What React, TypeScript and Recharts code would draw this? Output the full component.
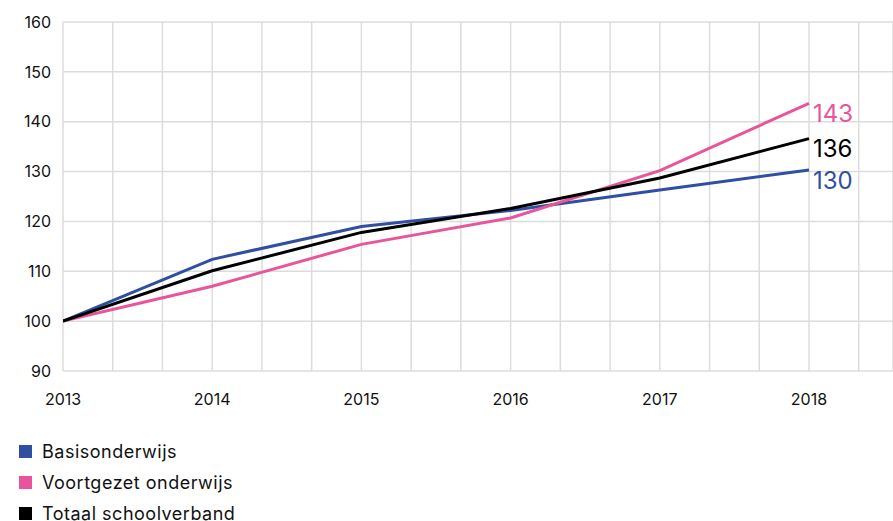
import { LineChart, Line, XAxis, YAxis, CartesianGrid, Legend } from 'recharts';

const years = [2013, 2014, 2015, 2016, 2017, 2018];
const basis = [100, 112.4, 119.0, 122.2, 126.3, 130.3];
const voortgezet = [100, 107.0, 115.4, 120.7, 130.2, 143.7];
const totaal = [100, 110.1, 117.8, 122.6, 128.7, 136.6];
const endLabels = { basis: '130', voortgezet: '143', totaal: '136' };
const yTicks = [90, 100, 110, 120, 130, 140, 150, 160];

const data = years.map((y, i) => ({
  year: y,
  basis: basis[i],
  voortgezet: voortgezet[i],
  totaal: totaal[i],
}));

// grid every third of a year, labels only on whole years
const gridTicks: number[] = [];
for (let k = 0; k <= 16; k++) gridTicks.push(2013 + k / 3);

const BLUE = '#2f50a0';
const PINK = '#e8559b';
const BLACK = '#000000';
const FONT = 'Inter, "Noto Sans", sans-serif';

const series = [
  { key: 'basis', name: 'Basisonderwijs', color: BLUE },
  { key: 'voortgezet', name: 'Voortgezet onderwijs', color: PINK },
  { key: 'totaal', name: 'Totaal schoolverband', color: BLACK },
];

function endLabel(color: string, text: string) {
  return (props: any) => {
    if (props.index !== years.length - 1) return null;
    return (
      <text x={props.x + 4} y={props.y + 10} fill={color} fontSize={24}
        fontFamily={FONT} dominantBaseline="central">
        {text}
      </text>
    );
  };
}

function LegendList() {
  return (
    <div style={{ height: 110, paddingTop: 25, paddingLeft: 19, boxSizing: 'border-box', overflow: 'visible' }}>
      {series.map((s) => (
        <div key={s.key} style={{ display: 'flex', alignItems: 'center', height: 31, fontFamily: FONT, fontSize: 18, letterSpacing: 0.5, color: '#111' }}>
          <span style={{ width: 13, height: 13, background: s.color, display: 'inline-block', marginRight: 10 }} />
          {s.name}
        </div>
      ))}
    </div>
  );
}

export default function App() {
  return (
    <div style={{ width: 893, height: 521 }}>
      <style>{'body{margin:0}'}</style>
      <LineChart width={893} height={521} data={data}
        margin={{ top: 22, right: 0, left: 0, bottom: 0 }}>
        <CartesianGrid stroke="#dcdcdc" strokeWidth={1.5} />
        <XAxis dataKey="year" type="number" domain={[2013, 2018.563]} ticks={gridTicks}
          interval={0} allowDataOverflow axisLine={false} tickLine={false} tickSize={0} tickMargin={23} height={40}
          tick={{ fill: '#111', fontSize: 16, fontFamily: FONT }}
          tickFormatter={(v: number) => (Math.abs(v - Math.round(v)) < 0.01 ? String(Math.round(v)) : '')} />
        <YAxis type="number" domain={[90, 160]} ticks={yTicks} interval={0} width={63}
          axisLine={false} tickLine={false} tickSize={0} tickMargin={12}
          tick={{ fill: '#111', fontSize: 16, fontFamily: FONT }} />
        <Legend verticalAlign="bottom" align="left" content={() => <LegendList />} />
        <Line dataKey="basis" name="Basisonderwijs" stroke={BLUE} strokeWidth={3} dot={false}
          type="linear" isAnimationActive={false} label={endLabel(BLUE, endLabels.basis)} />
        <Line dataKey="voortgezet" name="Voortgezet onderwijs" stroke={PINK} strokeWidth={3} dot={false}
          type="linear" isAnimationActive={false} label={endLabel(PINK, endLabels.voortgezet)} />
        <Line dataKey="totaal" name="Totaal schoolverband" stroke={BLACK} strokeWidth={3} dot={false}
          type="linear" isAnimationActive={false} label={endLabel(BLACK, endLabels.totaal)} />
      </LineChart>
    </div>
  );
}
